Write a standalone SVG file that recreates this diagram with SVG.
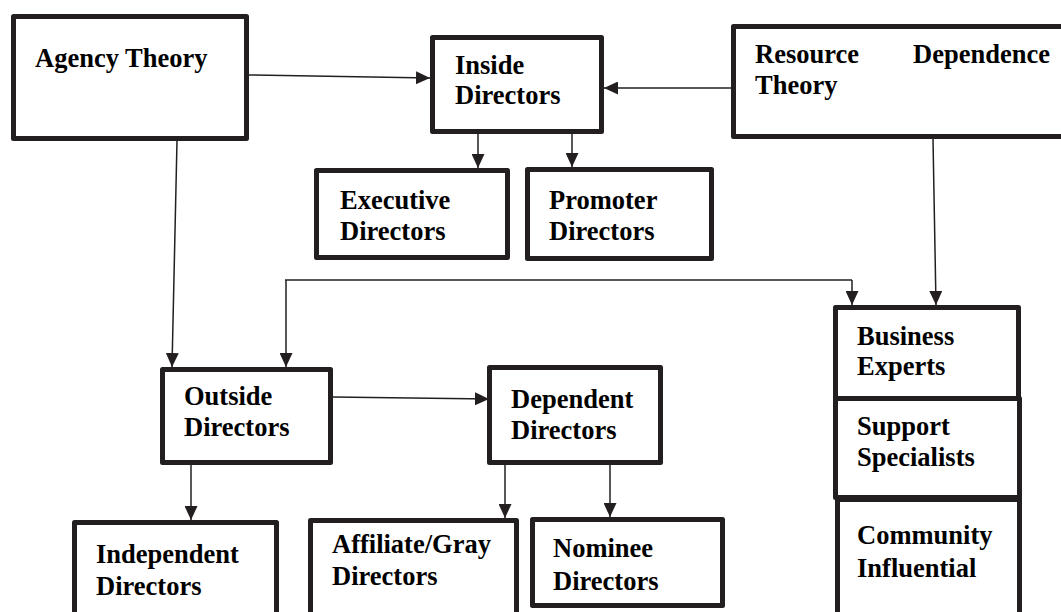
<svg xmlns="http://www.w3.org/2000/svg" width="1061" height="612" viewBox="0 0 1061 612">
<style>
.box{fill:#fff;stroke:#231f20;stroke-width:5;stroke-linejoin:round}
.t{font-family:"Liberation Serif","Times New Roman",serif;font-weight:bold;font-size:26.5px;fill:#000}
.c{fill:none;stroke:#231f20;stroke-width:1.5}
.a{marker-end:url(#ah)}
</style>
<defs>
<marker id="ah" viewBox="0 0 14 13" refX="14" refY="6.5" markerWidth="14" markerHeight="13" markerUnits="userSpaceOnUse" orient="auto">
<path d="M0,0 L14,6.5 L0,13 Z" fill="#231f20"/>
</marker>
</defs>
<rect width="1061" height="612" fill="#fff"/>
<g id="connectors">
<path class="c a" d="M249,75 L430,78"/>
<path class="c a" d="M731,88 L604,88"/>
<path class="c a" d="M478,134 L478,168"/>
<path class="c a" d="M572,134 L572,167"/>
<path class="c" d="M285,280 L852,280"/>
<path class="c a" d="M286,280 L286,367"/>
<path class="c a" d="M852,280 L852,305"/>
<path class="c a" d="M177,141 L172,367"/>
<path class="c a" d="M933,139 L936,305"/>
<path class="c a" d="M333,397 L489,399"/>
<path class="c a" d="M191,465 L191,520"/>
<path class="c a" d="M505,465 L505,518"/>
<path class="c a" d="M610,465 L610,517"/>
</g>
<g id="agency"><rect class="box" x="13.5" y="16.5" width="233" height="122"/><text class="t" x="35" y="67">Agency Theory</text></g>
<g id="inside"><rect class="box" x="432.5" y="37.5" width="169" height="94"/><text class="t" x="455" y="74">Inside</text><text class="t" x="455" y="104">Directors</text></g>
<g id="resource"><rect class="box" x="733.5" y="26.5" width="340" height="110"/><text class="t" x="755" y="63">Resource</text><text class="t" x="1050" y="63" text-anchor="end">Dependence</text><text class="t" x="755" y="94">Theory</text></g>
<g id="executive"><rect class="box" x="316.5" y="170.5" width="191" height="87"/><text class="t" x="340" y="209">Executive</text><text class="t" x="340" y="240">Directors</text></g>
<g id="promoter"><rect class="box" x="527.5" y="169.5" width="184" height="89"/><text class="t" x="549" y="209">Promoter</text><text class="t" x="549" y="240">Directors</text></g>
<g id="outside"><rect class="box" x="162.5" y="369.5" width="168" height="93"/><text class="t" x="184" y="405">Outside</text><text class="t" x="184" y="436">Directors</text></g>
<g id="dependent"><rect class="box" x="489.5" y="367.5" width="171" height="95"/><text class="t" x="511" y="408">Dependent</text><text class="t" x="511" y="439">Directors</text></g>
<g id="independent"><rect class="box" x="74.5" y="522.5" width="202" height="100"/><text class="t" x="96" y="563">Independent</text><text class="t" x="96" y="595">Directors</text></g>
<g id="affiliate"><rect class="box" x="310.5" y="520.5" width="206" height="100"/><text class="t" x="332" y="553">Affiliate/Gray</text><text class="t" x="332" y="585">Directors</text></g>
<g id="nominee"><rect class="box" x="532.5" y="519.5" width="190" height="86"/><text class="t" x="553" y="557">Nominee</text><text class="t" x="553" y="590">Directors</text></g>
<g id="business"><rect class="box" x="835.5" y="307.5" width="183" height="91"/><text class="t" x="857" y="345">Business</text><text class="t" x="857" y="375">Experts</text></g>
<g id="support"><rect class="box" x="835.5" y="398.5" width="184" height="99"/><text class="t" x="857" y="435">Support</text><text class="t" x="857" y="466">Specialists</text></g>
<g id="community"><rect class="box" x="837.5" y="499.5" width="182" height="120"/><text class="t" x="857" y="544">Community</text><text class="t" x="857" y="577">Influential</text></g>
</svg>
